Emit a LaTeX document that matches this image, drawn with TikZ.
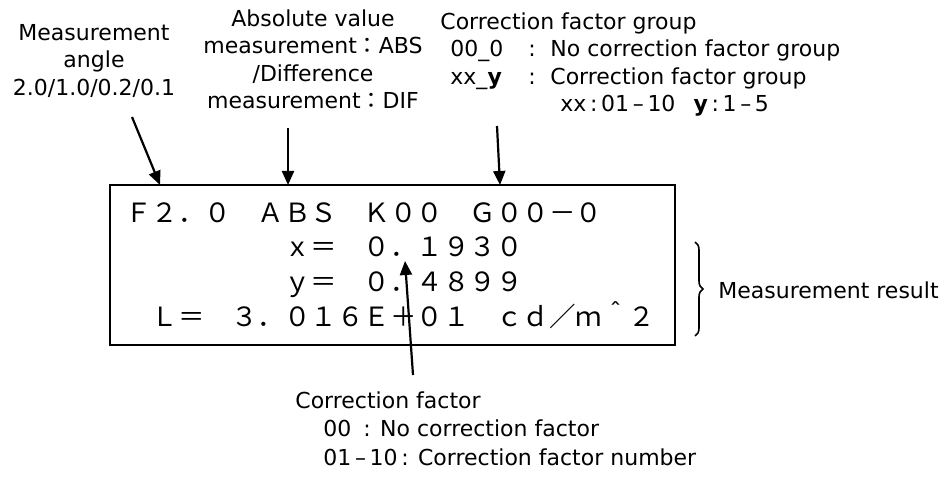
\documentclass[tikz,border=0pt]{standalone}
\usepackage{fontspec}
\setmainfont{DejaVu Sans}
\newfontfamily\jpfont{Noto Sans CJK JP}
\usetikzlibrary{arrows.meta, decorations.pathreplacing}
\tikzset{
	label text/.style={align=center, inner sep=0pt, font=\fontsize{11}{13.75}\selectfont},
	readout/.style={anchor=base west, inner sep=0pt, font=\jpfont\fontsize{13.25}{18}\selectfont},
	pointer/.style={line width=1.1pt, -{Triangle[length=7pt, width=6pt]}},
}

\begin{document}
\begin{tikzpicture}[x=0.5pt, y=-0.5pt]
	\useasboundingbox (0, 0) rectangle (946, 480);
	% Display and readout:
	\node[shape=rectangle, draw, line width=1pt, minimum width=282.5pt, minimum height=80pt, inner sep=0pt] (display) at (392.5, 265){};
	\node[readout] (row1) at (125, 223){Ｆ２．０　ＡＢＳ　Ｋ００　Ｇ００－０};
	\node[readout] (row2) at (125, 257){　　　　　　ｘ＝　０．１９３０};
	\node[readout] (row3) at (125, 292){　　　　　　ｙ＝　０．４８９９};
	\node[readout] (row4) at (125, 327){　Ｌ＝　３．０１６Ｅ＋０１　ｃｄ／ｍ＾２};
	% Labels:
	\node[label text, anchor=north] (angle) at (94, 24){Measurement\\angle\\2.0/1.0/0.2/0.1};
	\node[label text, anchor=north] (mode) at (313, 9){Absolute value\\measurement{\jpfont ：}ABS\\/Difference\\measurement{\jpfont ：}DIF};
	\node[label text, align=left, anchor=north west] (group) at (440, 12){Correction factor group\\
		\hspace*{5pt}\makebox[39pt][l]{00\_0}\makebox[11pt][l]{:}No correction factor group\\
		\hspace*{5pt}\makebox[39pt][l]{xx\_\textbf{y}}\makebox[11pt][l]{:}Correction factor group\\
		\hspace*{60pt}xx\,:\,01\,–\,10\hspace{9pt}\textbf{y}\,:\,1\,–\,5};
	\node[label text, align=left, anchor=north west, font=\fontsize{11}{14.25}\selectfont] (factor) at (295, 391){Correction factor\\
		\hspace*{14pt}\makebox[20pt][l]{00}: No correction factor\\
		\hspace*{14pt}01\,–\,10\,: Correction factor number};
	\node[label text, anchor=west] (result) at (718, 290){Measurement result};
	% Pointers:
	\coordinate (angleFoot) at (132, 117);
	\coordinate (modeFoot) at (288, 128);
	\coordinate (groupFoot) at (497, 126);
	\coordinate (factorHead) at (413, 375);
	\coordinate (tipF) at (160, 185);
	\coordinate (tipABS) at (288, 185);
	\coordinate (tipG) at (500, 185);
	\coordinate (tipK) at (405, 261);
	\draw[pointer] (angleFoot) -- (tipF);
	\draw[pointer] (modeFoot) -- (tipABS);
	\draw[pointer] (groupFoot) -- (tipG);
	\draw[pointer] (factorHead) -- (tipK);
	% Brace:
	\coordinate (braceTop) at (695, 242);
	\coordinate (braceBottom) at (695, 336);
	\draw[decorate, decoration={brace, amplitude=4pt}, line width=0.8pt] (braceTop) -- (braceBottom);
\end{tikzpicture}
\end{document}
